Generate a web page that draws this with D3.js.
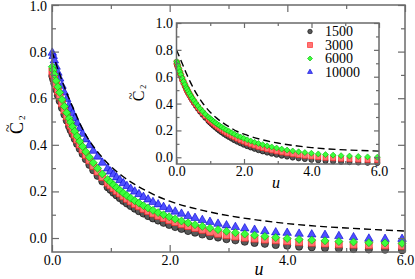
<!DOCTYPE html>
<html><head><meta charset="utf-8">
<script src="https://cdn.jsdelivr.net/npm/d3@7"></script>
<style>body{margin:0;background:#fff}svg{display:block}</style>
</head><body>
<svg id="chart" width="415" height="279"></svg>
<script>
// ---------- data ----------
const uGrid = [0.005,0.02,0.04,0.07,0.10,0.13,0.17,0.21,0.25,0.29,
  0.316,0.349,0.386,0.426,0.471,0.520,0.575,0.635,0.701,0.774,0.855,0.945,
  0.993,1.044,1.097,1.153,1.212,1.273,1.338,1.407,1.478,1.554,1.633,1.716,1.804,1.896,1.992,
  2.094,2.201,2.313,2.431,2.555,2.685,2.822,2.966,3.117,3.276,3.443,3.618,3.803,3.997,
  4.200,4.415,4.640,4.876,5.125,5.386,5.661,5.950];

const main1500 = [0.695,0.681,0.663,0.637,0.612,0.588,0.558,0.530,0.504,0.479,
  0.463,0.445,0.425,0.404,0.383,0.361,0.338,0.314,0.291,0.267,0.243,0.218,
  0.207,0.194,0.183,0.171,0.159,0.148,0.137,0.126,0.115,0.105,0.094,0.084,0.075,0.065,0.056,
  0.047,0.039,0.030,0.023,0.015,0.008,0.002,-0.005,-0.010,-0.016,-0.021,-0.025,-0.030,-0.033,
  -0.037,-0.040,-0.043,-0.045,-0.047,-0.049,-0.050,-0.052];
const main3000 = [0.715,0.701,0.683,0.656,0.631,0.607,0.577,0.549,0.522,0.497,
  0.482,0.463,0.443,0.422,0.401,0.379,0.356,0.333,0.309,0.285,0.261,0.237,
  0.226,0.214,0.202,0.191,0.179,0.168,0.157,0.146,0.136,0.125,0.115,0.105,0.095,0.086,0.076,
  0.068,0.059,0.051,0.043,0.035,0.026,0.018,0.012,0.006,0.001,-0.003,-0.007,-0.010,-0.014,
  -0.018,-0.021,-0.024,-0.027,-0.029,-0.031,-0.032,-0.034];
const main6000 = [0.735,0.721,0.702,0.675,0.649,0.625,0.594,0.565,0.538,0.513,
  0.497,0.478,0.458,0.437,0.415,0.393,0.370,0.347,0.323,0.299,0.275,0.251,
  0.240,0.228,0.216,0.205,0.193,0.182,0.171,0.160,0.150,0.139,0.129,0.119,0.109,0.100,0.091,
  0.082,0.073,0.065,0.057,0.050,0.042,0.036,0.029,0.023,0.017,0.012,0.007,0.002,-0.002,
  -0.006,-0.009,-0.012,-0.015,-0.017,-0.020,-0.021,-0.023];
const main10000 = [0.795,0.781,0.762,0.735,0.709,0.684,0.653,0.624,0.596,0.570,
  0.554,0.535,0.514,0.493,0.470,0.447,0.423,0.398,0.374,0.349,0.323,0.298,
  0.285,0.273,0.260,0.248,0.235,0.223,0.211,0.199,0.188,0.176,0.165,0.154,0.144,0.133,0.123,
  0.113,0.104,0.094,0.086,0.077,0.069,0.061,0.054,0.047,0.041,0.035,0.029,0.024,0.022,
  0.018,0.015,0.013,0.008,0.003,-0.003,-0.004,-0.004];

const inset1500 = [0.696,0.684,0.668,0.645,0.623,0.603,0.577,0.552,0.529,0.508,
  0.494,0.478,0.461,0.443,0.424,0.404,0.383,0.362,0.340,0.317,0.294,0.271,
  0.259,0.247,0.235,0.223,0.210,0.198,0.186,0.174,0.162,0.151,0.139,0.127,0.116,0.105,0.094,
  0.083,0.073,0.063,0.053,0.044,0.035,0.027,0.019,0.012,0.005,-0.002,-0.008,-0.013,-0.018,
  -0.023,-0.027,-0.030,-0.034,-0.036,-0.039,-0.041,-0.043];
const inset3000 = [0.706,0.693,0.677,0.653,0.631,0.610,0.584,0.559,0.536,0.514,
  0.500,0.485,0.468,0.450,0.432,0.413,0.393,0.372,0.351,0.330,0.308,0.286,
  0.274,0.263,0.252,0.240,0.228,0.217,0.206,0.194,0.183,0.172,0.161,0.150,0.139,0.128,0.118,
  0.107,0.097,0.088,0.078,0.069,0.060,0.052,0.044,0.037,0.030,0.023,0.017,0.011,0.006,
  0.001,-0.004,-0.007,-0.011,-0.014,-0.017,-0.019,-0.021];
const inset6000 = [0.715,0.702,0.685,0.661,0.638,0.616,0.590,0.565,0.542,0.520,
  0.507,0.491,0.474,0.457,0.439,0.421,0.402,0.382,0.362,0.342,0.321,0.300,
  0.289,0.279,0.268,0.257,0.246,0.236,0.225,0.214,0.204,0.193,0.182,0.172,0.161,0.151,0.141,
  0.131,0.121,0.112,0.103,0.094,0.085,0.077,0.069,0.061,0.054,0.047,0.041,0.035,0.030,
  0.025,0.020,0.016,0.012,0.009,0.006,0.003,0.001];

const theoryU = [0,0.1,0.2,0.3,0.4,0.5,0.6,0.8,1.0,1.2,1.4,1.6,1.8,2.0,2.5,3.0,3.5,4.0,4.5,5.0,5.5,6.0];
const theoryMain = [0.80,0.725,0.655,0.593,0.535,0.478,0.432,0.362,0.307,0.265,0.231,0.203,0.178,0.158,0.122,0.096,0.077,0.062,0.051,0.043,0.036,0.030];
const theoryInset = [0.80,0.74,0.68,0.62,0.565,0.515,0.47,0.395,0.335,0.29,0.252,0.221,0.192,0.172,0.133,0.106,0.087,0.072,0.062,0.055,0.050,0.046];

const seriesNames = ["1500","3000","6000","10000"];
const xMajor = [0,2,4,6], xMinor = [1,3,5];
const yMajor = [0,0.2,0.4,0.6,0.8,1.0], yMinor = [0.1,0.3,0.5,0.7,0.9];

// ---------- styles ----------
const styles = {
  "1500":  {shape:"circle",   fill:"#595959", stroke:"#000000"},
  "3000":  {shape:"square",   fill:"#ff7474", stroke:"#ff1a1a"},
  "6000":  {shape:"diamond",  fill:"#3cff3c", stroke:"#00b400"},
  "10000": {shape:"triangle", fill:"#4f4fff", stroke:"#0000d0"}
};
const FONT = '"Liberation Serif","DejaVu Serif","Liberation Sans",Arial,sans-serif';
const svg = d3.select("#chart");

function symbolPath(shape, s) {
  if (shape === "circle") return d3.symbol(d3.symbolCircle, Math.PI*s*s/4)();
  if (shape === "square") return d3.symbol(d3.symbolSquare, s*s)();
  if (shape === "diamond") { const h = s/2; return `M0,${-h}L${h},0L0,${h}L${-h},0Z`; }
  if (shape === "triangle") return d3.symbol(d3.symbolTriangle, Math.sqrt(3)/4*s*s)();
}

function panel(opt) {
  const x = d3.scaleLinear().domain([0,6]).range([opt.left, opt.right]);
  const y = d3.scaleLinear().domain([opt.ymin,1.0]).range([opt.bottom, opt.top]);
  const g = svg.append("g");

  const line = d3.line().x((d,i)=>x(theoryU[i])).y(d=>y(d)).curve(d3.curveMonotoneX);
  opt.series.forEach(([name, vals, sz]) => {
    const st = styles[name];
    const p = symbolPath(st.shape, sz);
    g.append("g").selectAll("path").data(vals).join("path")
      .attr("d", p)
      .attr("transform", (d,i)=>`translate(${x(uGrid[i])},${y(d)})`)
      .attr("fill", st.fill).attr("stroke", st.stroke).attr("stroke-width", 0.6);
  });
  g.append("path").datum(opt.theory).attr("d", line)
    .attr("fill","none").attr("stroke","#000").attr("stroke-width",1.4)
    .attr("stroke-dasharray","7,4");

  const ax = (gen, scale, vals, size, pad, tx, ty, labels) => {
    const a = g.append("g").attr("transform",`translate(${tx},${ty})`)
      .call(gen(scale).tickValues(vals).tickSize(-size).tickPadding(pad)
        .tickFormat(labels ? d3.format(".1f") : ""));
    a.attr("font-family", null).attr("font-size", null);
    a.select(".domain").remove();
    a.selectAll("line").attr("stroke","#6a6a6a").attr("stroke-width",1.2);
    a.selectAll("text").style("font-family",FONT).style("font-size",opt.fs+"px").attr("fill","#000");
    return a;
  };
  const M = opt.major, m = opt.minor;
  ax(d3.axisBottom, x, xMajor, M, opt.xpad, 0, opt.bottom, true);
  ax(d3.axisBottom, x, xMinor, m, 0, 0, opt.bottom, false);
  ax(d3.axisTop, x, xMajor, M, 0, 0, opt.top, false);
  ax(d3.axisTop, x, xMinor, m, 0, 0, opt.top, false);
  const yl0 = ax(d3.axisLeft, y, yMajor, M, opt.ypad, opt.left, 0, true);
  if (opt.nudgeTop) yl0.selectAll("text").filter(d=>d===1.0).attr("dy","0.42em");
  ax(d3.axisLeft, y, yMinor, m, 0, opt.left, 0, false);
  ax(d3.axisRight, y, yMajor, M, 0, opt.right, 0, false);
  ax(d3.axisRight, y, yMinor, m, 0, opt.right, 0, false);

  g.append("rect").attr("x",opt.left).attr("y",opt.top)
    .attr("width",opt.right-opt.left).attr("height",opt.bottom-opt.top)
    .attr("fill","none").attr("stroke","#6a6a6a").attr("stroke-width",1.5);

  // axis titles
  g.append("text").attr("x",opt.uX).attr("y",opt.uY).attr("text-anchor","middle")
    .style("font-family",FONT).style("font-style","italic").style("font-size",opt.tfs+"px").text("u");
  const yl = g.append("g").attr("transform",`translate(${opt.cX},${opt.cY}) rotate(-90)`);
  yl.append("text").attr("x",0).attr("y",0).attr("text-anchor","middle")
    .style("font-family",FONT).style("font-size",opt.tfs+"px").text("C");
  yl.append("text").attr("x",0).attr("y",-opt.tfs*0.58).attr("text-anchor","middle")
    .style("font-family",FONT).style("font-size",(opt.tfs*0.8)+"px").text("~");
  yl.append("text").attr("x",opt.tfs*0.45).attr("y",opt.tfs*0.1).attr("text-anchor","start")
    .style("font-family",FONT).style("font-size",(opt.tfs*0.5)+"px").text("2");
  return {x, y, g};
}

// main panel
panel({left:52, right:405, top:5, bottom:252, ymin:-0.06, fs:14, tfs:18,
  major:7, minor:4, xpad:3, ypad:5, uX:259, uY:275, cX:23, cY:128, nudgeTop:true,
  theory: theoryMain,
  series: [["10000",main10000,8.5],["1500",main1500,7.2],["3000",main3000,6.8],["6000",main6000,8]]});

// inset panel
svg.append("rect").attr("x",177).attr("y",23).attr("width",202).attr("height",141).attr("fill","#fff");
panel({left:176.5, right:379, top:23, bottom:164, ymin:-0.05, fs:14, tfs:16,
  major:5, minor:3, xpad:2.5, ypad:3.5, uX:276, uY:188, cX:144, cY:96,
  theory: theoryInset,
  series: [["1500",inset1500,5.2],["3000",inset3000,5],["6000",inset6000,6]]});

// legend (inside inset)
const legRows = [31.5, 45, 58.5, 72];
const leg = svg.append("g");
seriesNames.forEach((name,i) => {
  const st = styles[name];
  leg.append("path").attr("d", symbolPath(st.shape, name==="1500"?4.5:5))
    .attr("transform",`translate(310,${legRows[i]})`)
    .attr("fill",st.fill).attr("stroke",st.stroke).attr("stroke-width",0.6);
  leg.append("text").attr("x",325).attr("y",legRows[i]+4.5)
    .style("font-family",FONT).style("font-size","14px").text(name);
});
</script>
</body></html>
